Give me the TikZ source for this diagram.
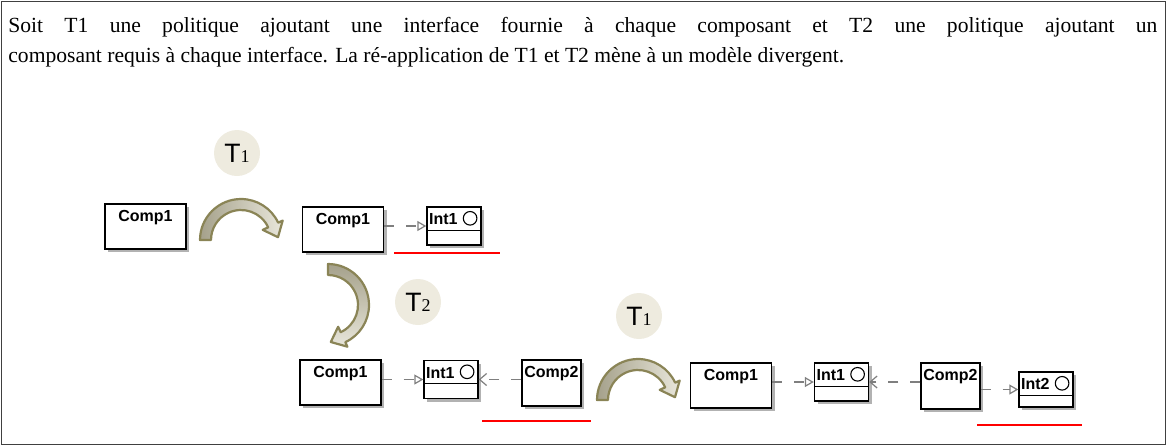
\documentclass[tikz,border=0pt]{standalone}
\usepackage{fontspec}
\setmainfont{Liberation Serif}
\newfontfamily\umlfont{Liberation Sans}
\usetikzlibrary{arrows.meta,shadows}

\definecolor{turnline}{HTML}{8A8456}
\definecolor{turndark}{HTML}{A5A18B}
\definecolor{turnlight}{HTML}{E8E6DA}
\definecolor{tbg}{HTML}{EEEBDF}
\definecolor{linkgray}{HTML}{7F7F7F}

\tikzset{
  boxtext/.style={font=\umlfont\bfseries\fontsize{8}{9}\selectfont, inner sep=0pt},
  comp/.style={draw, line width=0.7pt, fill=white, inner sep=0pt,
    minimum width=40.5pt, minimum height=22.5pt,
    drop shadow={shadow xshift=1.5pt, shadow yshift=-1.5pt, fill=black!30, opacity=1},
    label={[boxtext, anchor=north, yshift=-3.5pt]north:#1}},
  iface/.style={draw, line width=0.7pt, fill=white, inner sep=0pt,
    minimum width=27pt, minimum height=19pt,
    drop shadow={shadow xshift=1.5pt, shadow yshift=-1.5pt, fill=black!30, opacity=1},
    label={[boxtext, anchor=north west, xshift=1.2pt, yshift=-3.5pt]north west:#1}},
  tcirc/.style={circle, fill=tbg, minimum size=23pt, inner sep=0pt},
  turn/.style={draw=turnline, line width=1.1pt, line join=round},
  provided/.style={draw=linkgray, line width=0.6pt, dash pattern=on 5pt off 6pt,
    -{Triangle[open, length=4.5pt, width=5pt]}},
  required/.style={draw=linkgray, line width=0.6pt, dash pattern=on 5pt off 6pt,
    -{Straight Barb[length=3.5pt, width=6pt]}},
  redmark/.style={draw=red, line width=1pt},
  pics/turnarrow/.style={code={
    \draw[turn,#1] (180:41) arc[start angle=180, end angle=335, radius=41]
      -- (335:46) -- (37,-2.8) -- (335:24) -- (335:30)
      arc[start angle=335, end angle=180, radius=30] -- cycle;
  }},
}

\newcommand{\tlabel}[1]{{\umlfont\fontsize{13.3}{14}\selectfont T}{\fontsize{9}{9}\selectfont #1}}

\begin{document}
\begin{tikzpicture}[x=0.5pt,y=-0.5pt]
\useasboundingbox (0,0) rectangle (1167,446);
\draw[line width=0.5pt, black!75] (1.5,1.5) rectangle (1165.5,444.5);

\node[anchor=north west, text width=574.5pt, align=justify, inner sep=0pt,
  font=\fontsize{10.8}{15}\selectfont] (desc) at (8,17)
  {Soit T1 une politique ajoutant une interface fournie à chaque composant et T2 une politique ajoutant un\linebreak
   composant requis à chaque interface. La ré-application de T1 et T2 mène à un modèle divergent.};

% first step: T1 on the lone component
\node[tcirc] (t1a) at (237,153) {\tlabel{1}};
\node[comp=Comp1] (c1a) at (145.5,226.5) {};
\pic at (241,240) {turnarrow={left color=turndark, right color=turnlight}};
\node[comp=Comp1] (c1b) at (343,229.5) {};
\node[iface=Int1] (i1a) at (454,226) {};
\draw[provided] (c1b.east |- i1a.west) -- (i1a.west);
\draw[redmark] (394,253) -- (500,253);

% second step: T2 adds the required component
\pic[rotate=-90] at (328,305) {turnarrow={top color=turndark, bottom color=turnlight}};
\node[tcirc] (t2) at (418,302) {\tlabel{2}};
\node[comp=Comp1] (c1c) at (340.5,382.5) {};
\node[iface=Int1] (i1b) at (451,379.5) {};
\node[comp=Comp2, minimum width=29.5pt, minimum height=23pt] (c2a) at (551.5,383) {};
\draw[provided] (c1c.east |- i1b.west) -- (i1b.west);
\draw[required] (c2a.west |- i1b.east) -- (i1b.east);
\draw[redmark] (482,421) -- (591,421);

% third step: T1 again
\node[tcirc] (t1b) at (639,316) {\tlabel{1}};
\pic at (638,400) {turnarrow={left color=turndark, right color=turnlight}};
\node[comp=Comp1] (c1d) at (731,385.5) {};
\node[iface=Int1] (i1c) at (841.5,382) {};
\node[comp=Comp2, minimum width=29.5pt, minimum height=23pt] (c2b) at (950.5,386) {};
\node[iface=Int2, minimum height=17.5pt] (i2) at (1046,389.5) {};
\draw[provided] (c1d.east |- i1c.west) -- (i1c.west);
\draw[required] (c2b.west |- i1c.east) -- (i1c.east);
\draw[provided] (c2b.east |- i2.west) -- (i2.west);
\draw[redmark] (977,425) -- (1082,425);

% compartment line and provided-interface ball
\foreach \i in {i1a,i1b,i1c,i2}{
  \draw[line width=0.6pt] ([yshift=-12pt]\i.north west) -- ([yshift=-12pt]\i.north east);
  \draw[line width=0.55pt] ([shift={(-5.8pt,-6pt)}]\i.north east) circle (3.4pt);
}
\end{tikzpicture}
\end{document}
